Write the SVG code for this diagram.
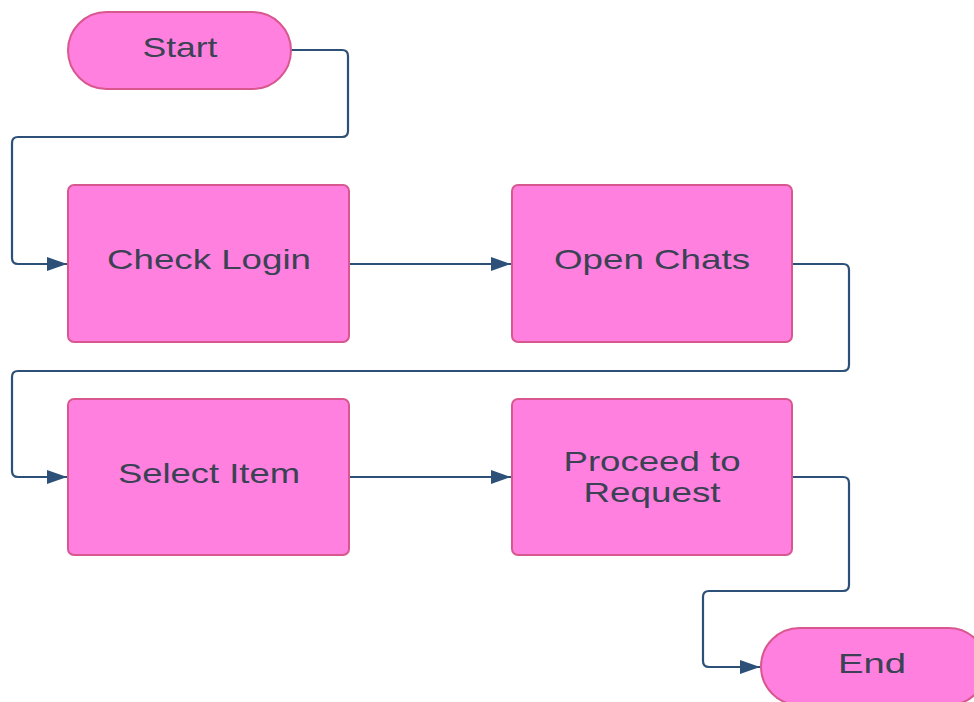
<svg xmlns="http://www.w3.org/2000/svg" width="974" height="702" viewBox="0 0 974 702">
<defs>
<style>
.node{fill:#ff80df;stroke:#d9578f;stroke-width:2}
.lbl{font-family:"Liberation Sans",Arial,sans-serif;font-size:28px;fill:#3b4254;text-anchor:middle}
.conn{fill:none;stroke:#2c5078;stroke-width:2.2;stroke-linejoin:round}
</style>
<marker id="arr" markerWidth="20" markerHeight="14" refX="20" refY="7" orient="auto" markerUnits="userSpaceOnUse">
<path d="M0,0 L20,7 L0,14 Z" fill="#2c5078"/>
</marker>
</defs>
<rect width="974" height="702" fill="#ffffff"/>
<g id="connectors">
<path class="conn" d="M291,50 H342 Q348,50 348,56 V131 Q348,137 342,137 H18 Q12,137 12,143 V258 Q12,264 18,264 H67" marker-end="url(#arr)"/>
<path class="conn" d="M349,264 H511" marker-end="url(#arr)"/>
<path class="conn" d="M792,264 H843 Q849,264 849,270 V365 Q849,371 843,371 H18 Q12,371 12,377 V471 Q12,477 18,477 H67" marker-end="url(#arr)"/>
<path class="conn" d="M349,477 H511" marker-end="url(#arr)"/>
<path class="conn" d="M792,477 H843 Q849,477 849,483 V585 Q849,591 843,591 H709 Q703,591 703,597 V661 Q703,667 709,667 H760" marker-end="url(#arr)"/>
</g>
<g id="start">
<rect class="node" x="68" y="12" width="223" height="77" rx="38.5"/>
<text class="lbl" x="180" y="57" font-size="27" textLength="75" lengthAdjust="spacingAndGlyphs">Start</text>
</g>
<g id="check-login">
<rect class="node" x="68" y="185" width="281" height="157" rx="6"/>
<text class="lbl" x="209" y="269" textLength="204" lengthAdjust="spacingAndGlyphs">Check Login</text>
</g>
<g id="open-chats">
<rect class="node" x="512" y="185" width="280" height="157" rx="6"/>
<text class="lbl" x="652" y="269" textLength="196" lengthAdjust="spacingAndGlyphs">Open Chats</text>
</g>
<g id="select-item">
<rect class="node" x="68" y="399" width="281" height="156" rx="6"/>
<text class="lbl" x="209" y="483" textLength="182" lengthAdjust="spacingAndGlyphs">Select Item</text>
</g>
<g id="proceed">
<rect class="node" x="512" y="399" width="280" height="156" rx="6"/>
<text class="lbl" x="652" y="471" textLength="177" lengthAdjust="spacingAndGlyphs">Proceed to</text>
<text class="lbl" x="652" y="502" textLength="137" lengthAdjust="spacingAndGlyphs">Request</text>
</g>
<g id="end">
<rect class="node" x="761" y="628" width="226" height="77" rx="38.5"/>
<text class="lbl" x="872" y="673" font-size="27" textLength="68" lengthAdjust="spacingAndGlyphs">End</text>
</g>
</svg>
